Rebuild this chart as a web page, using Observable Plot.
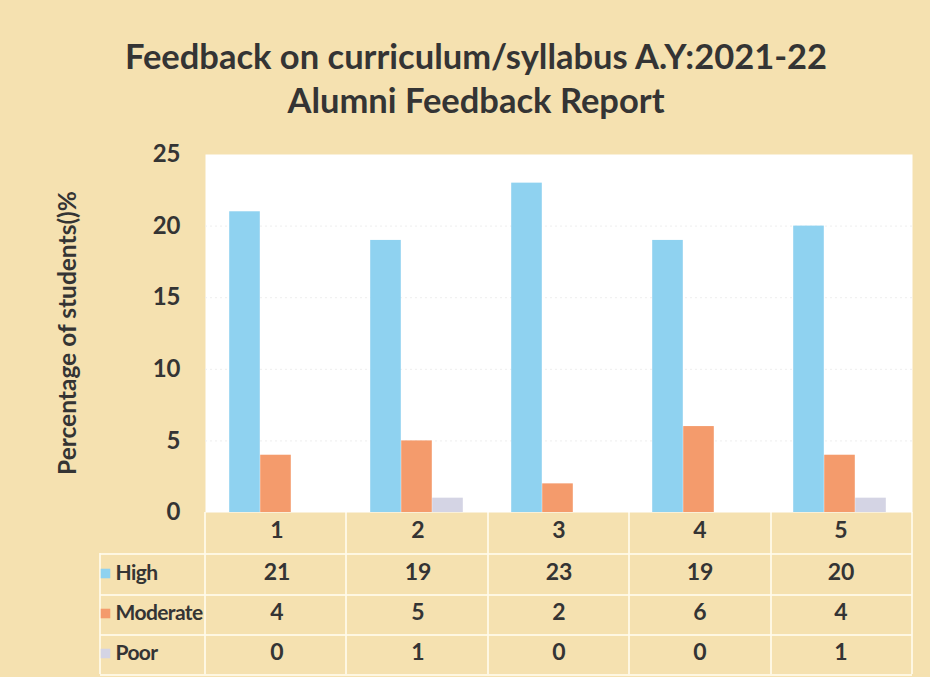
<!DOCTYPE html>
<html>
<head>
<meta charset="utf-8">
<script src="https://cdn.jsdelivr.net/npm/d3@7"></script>
<script src="https://cdn.jsdelivr.net/npm/@observablehq/plot@0.6"></script>
<style>
  html, body { margin: 0; padding: 0; }
  body {
    width: 930px; height: 677px; position: relative; overflow: hidden;
    background: #f5e1b0;
    font-family: Lato, "Open Sans", sans-serif;
  }
  #title {
    position: absolute; left: 0; top: 34px; width: 952px;
    text-align: center; font-weight: 700; font-size: 34.5px; line-height: 44px;
    color: #343434;
  }
  #ylabel {
    position: absolute; left: 66px; top: 333px; width: 0; height: 0;
  }
  #ylabel span {
    position: absolute; left: 0; top: 0; white-space: nowrap;
    transform: translate(-50%, -50%) rotate(-90deg);
    font-weight: 700; font-size: 24.5px; color: #343434;
  }
  #chart { position: absolute; left: 0; top: 130px; }
  #chart svg .rowlab text, #chart svg text.rowlab { letter-spacing: -0.6px; }
  .gl { position: absolute; background: rgba(255,250,235,0.85); }
</style>
</head>
<body>
<div id="title">Feedback on curriculum/syllabus A.Y:2021-22<br>Alumni Feedback Report</div>
<div id="grid"></div>
<div id="chart"></div>
<div id="ylabel"><span></span></div>
<script>
// ---- data ----
const groups = ["1", "2", "3", "4", "5"];
const seriesNames = ["High", "Moderate", "Poor"];
const high = [21, 19, 23, 19, 20];
const moderate = [4, 5, 2, 6, 4];
const poor = [0, 1, 0, 0, 1];
const yTicks = [0, 5, 10, 15, 20, 25];
const yLabel = "Percentage of students()%";
const colors = ["#8fd2f0", "#f49b6c", "#d4d4e4"];

document.querySelector("#ylabel span").textContent = yLabel;

// ---- layout ----
const W = 930, H = 547, mL = 205, mR = 18, mT = 24, mB = 165;
const bw = (W - mL - mR) / groups.length;
const barW = 31;
const off = (bw - 3 * barW) / 2 - 1;

const rows = groups.map((g, i) => ({group: g, High: high[i], Moderate: moderate[i], Poor: poor[i]}));
const rowDy = [25, 67, 107, 147];

const font = "Lato, 'Open Sans', sans-serif";
const txt = {fontWeight: 700, fontSize: 23, fill: "#343434", fontFamily: font};
const lab = {fontWeight: 700, fontSize: 21, fill: "#343434", fontFamily: font, className: "rowlab"};

const marks = [
  Plot.frame({fill: "white", stroke: null}),
  Plot.ruleY([5, 10, 15, 20], {stroke: "#eeeeee", strokeDasharray: "2,3"}),
];
seriesNames.forEach((s, k) => {
  marks.push(Plot.barY(rows, {
    x: "group", y: s, fill: colors[k],
    insetLeft: off + k * barW, insetRight: bw - off - (k + 1) * barW
  }));
});
// table: header row (group labels) and value rows
marks.push(Plot.text(rows, {x: "group", frameAnchor: "bottom", text: "group", dy: rowDy[0], ...txt}));
seriesNames.forEach((s, k) => {
  marks.push(Plot.text(rows, {x: "group", frameAnchor: "bottom", text: s, dy: rowDy[k + 1], ...txt}));
  marks.push(Plot.text([s], {frameAnchor: "bottom-left", text: d => d, textAnchor: "start", dx: -90, dy: rowDy[k + 1], ...lab}));
  marks.push(Plot.dot([s], {frameAnchor: "bottom-left", symbol: "square", r: 5.4, fill: colors[k], stroke: null, dx: -100, dy: rowDy[k + 1] - 6}));
});

const chart = Plot.plot({
  width: W, height: H,
  marginLeft: mL, marginRight: mR, marginTop: mT, marginBottom: mB,
  style: {background: "transparent", overflow: "visible"},
  x: {domain: groups, padding: 0, axis: null},
  y: {domain: [0, 25], axis: null},
  marks: [
    ...marks,
    Plot.axisY({ticks: yTicks, tickSize: 0, tickPadding: 25, label: null, tickFormat: d => d,
      fontWeight: 700, fontSize: 24, fill: "#343434", fontFamily: font})
  ]
});
document.getElementById("chart").appendChild(chart);

// table grid lines (decorative)
const grid = document.getElementById("grid");
const plotBottom = 130 + H - mB;
function line(x, y, w, h) {
  const d = document.createElement("div");
  d.className = "gl";
  d.style.left = x + "px"; d.style.top = y + "px"; d.style.width = w + "px"; d.style.height = h + "px";
  grid.appendChild(d);
}
const hy = [553, 594, 634, 674];
hy.forEach(y => line(100, y, W - mR - 100, 2));
for (let i = 0; i <= groups.length; i++) line(mL + i * bw - 1, plotBottom, 2, 674 - plotBottom);
line(99, 553, 2, 121);
</script>
</body>
</html>
